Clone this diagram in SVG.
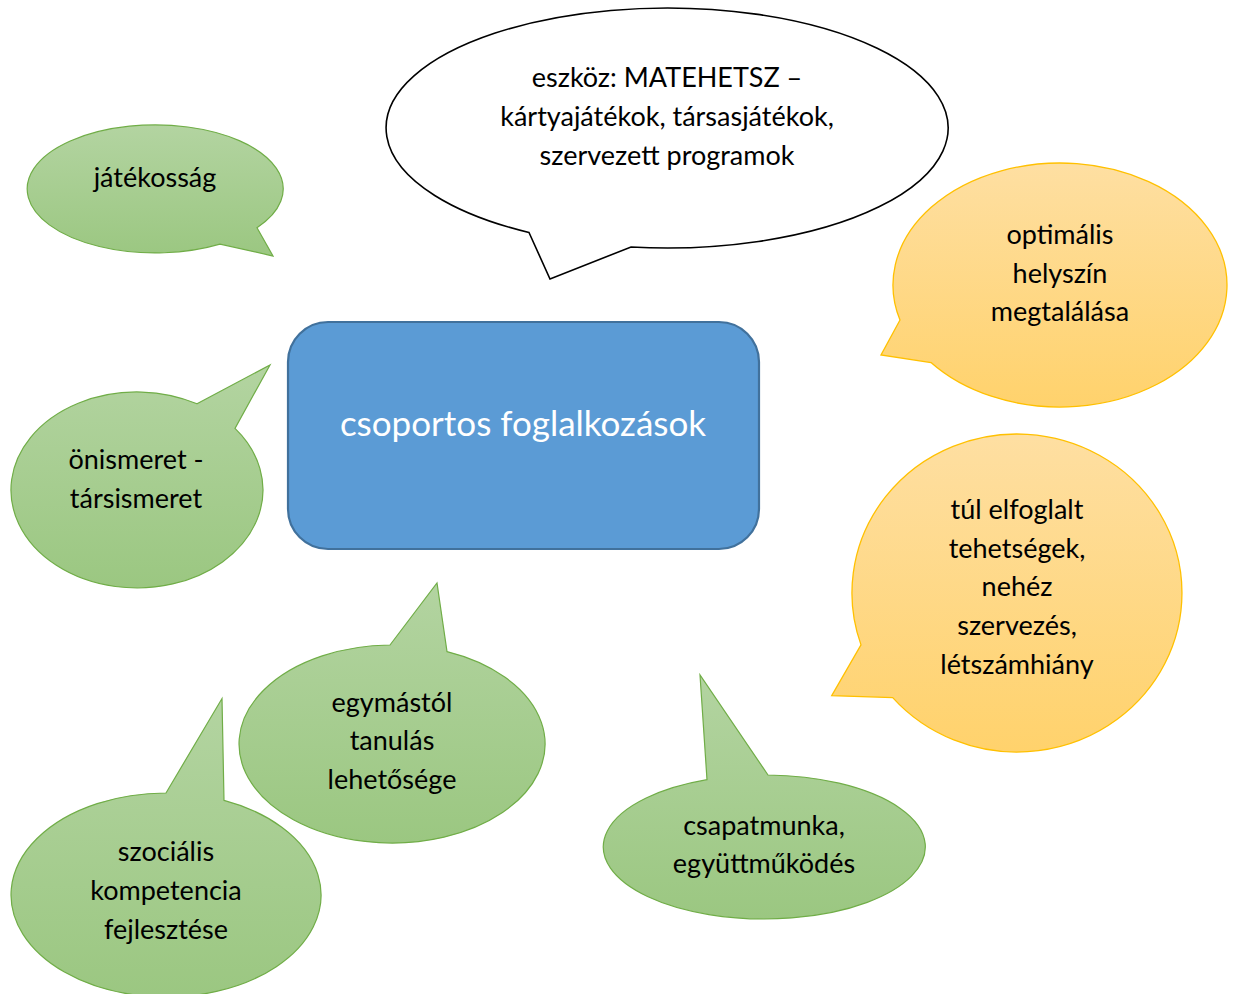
<svg xmlns="http://www.w3.org/2000/svg" width="1235" height="994" viewBox="0 0 1235 994">
<defs>
<linearGradient id="gGreen" x1="0" y1="0" x2="0" y2="1">
<stop offset="0" stop-color="#b3d4a1"/>
<stop offset="1" stop-color="#9bc781"/>
</linearGradient>
<linearGradient id="gOrange" x1="0" y1="0" x2="0" y2="1">
<stop offset="0" stop-color="#fedfa2"/>
<stop offset="1" stop-color="#ffd26c"/>
</linearGradient>
<style>
.green{fill:url(#gGreen);stroke:#70ad47;stroke-width:1.2;stroke-linejoin:miter}
.orange{fill:url(#gOrange);stroke:#ffc000;stroke-width:1.3}
.white{fill:#ffffff;stroke:#000000;stroke-width:1.6}
.main{fill:#5b9bd5;stroke:#41719c;stroke-width:2.2}
text{font-family:Lato,"Liberation Sans",sans-serif;font-size:27px;fill:#000000;text-anchor:middle}
.big{font-size:35px;fill:#ffffff}
</style>
</defs>
<rect width="1235" height="994" fill="#ffffff"/>
<g id="connectors"/>
<g id="n-eszkoz">
<path class="white" d="M 529 232.5 L 550 279 L 631 247 A 281 120 0 1 0 529 232.5 Z"/>
<text x="667" y="87">eszköz: MATEHETSZ –</text>
<text x="667" y="126">kártyajátékok, társasjátékok,</text>
<text x="667" y="165">szervezett programok</text>
</g>
<g id="n-jatekossag">
<path class="green" d="M 257 227.7 L 273 256 L 220 244.1 A 128 64 0 1 1 257 227.7 Z"/>
<text x="155" y="187">játékosság</text>
</g>
<g id="n-onismeret">
<path class="green" d="M 197 403.8 L 270 365 L 235 428.4 A 126 98 0 1 1 197 403.8 Z"/>
<text x="136" y="469">önismeret -</text>
<text x="136" y="508">társismeret</text>
</g>
<g id="n-center">
<rect class="main" x="288" y="322" width="471" height="227" rx="40" ry="40"/>
<text class="big" x="523" y="436">csoportos foglalkozások</text>
</g>
<g id="n-optimalis">
<path class="orange" d="M 900 320 L 881 355 L 931 362.5 A 167 122 0 1 0 900 320 Z"/>
<text x="1060" y="244">optimális</text>
<text x="1060" y="283">helyszín</text>
<text x="1060" y="321">megtalálása</text>
</g>
<g id="n-tul">
<path class="orange" d="M 861 644.9 L 831.7 695.7 L 892.7 697.6 A 165 159 0 1 0 861 644.9 Z"/>
<text x="1017" y="519">túl elfoglalt</text>
<text x="1017" y="558">tehetségek,</text>
<text x="1017" y="596">nehéz</text>
<text x="1017" y="635">szervezés,</text>
<text x="1017" y="674">létszámhiány</text>
</g>
<g id="n-csapatmunka">
<path class="green" d="M 707 779.7 L 700 675 L 768 775 A 161 72 0 1 1 707 779.7 Z"/>
<text x="764" y="835">csapatmunka,</text>
<text x="764" y="873">együttműködés</text>
</g>
<g id="n-egymastol">
<path class="green" d="M 390 645 L 437 583 L 447 651.6 A 153 99 0 1 1 390 645 Z"/>
<text x="392" y="712">egymástól</text>
<text x="392" y="750">tanulás</text>
<text x="392" y="789">lehetősége</text>
</g>
<g id="n-szocialis">
<path class="green" d="M 166 793 L 222 698.5 L 224 800.4 A 155 102 0 1 1 166 793 Z"/>
<text x="166" y="861">szociális</text>
<text x="166" y="900">kompetencia</text>
<text x="166" y="939">fejlesztése</text>
</g>
</svg>
